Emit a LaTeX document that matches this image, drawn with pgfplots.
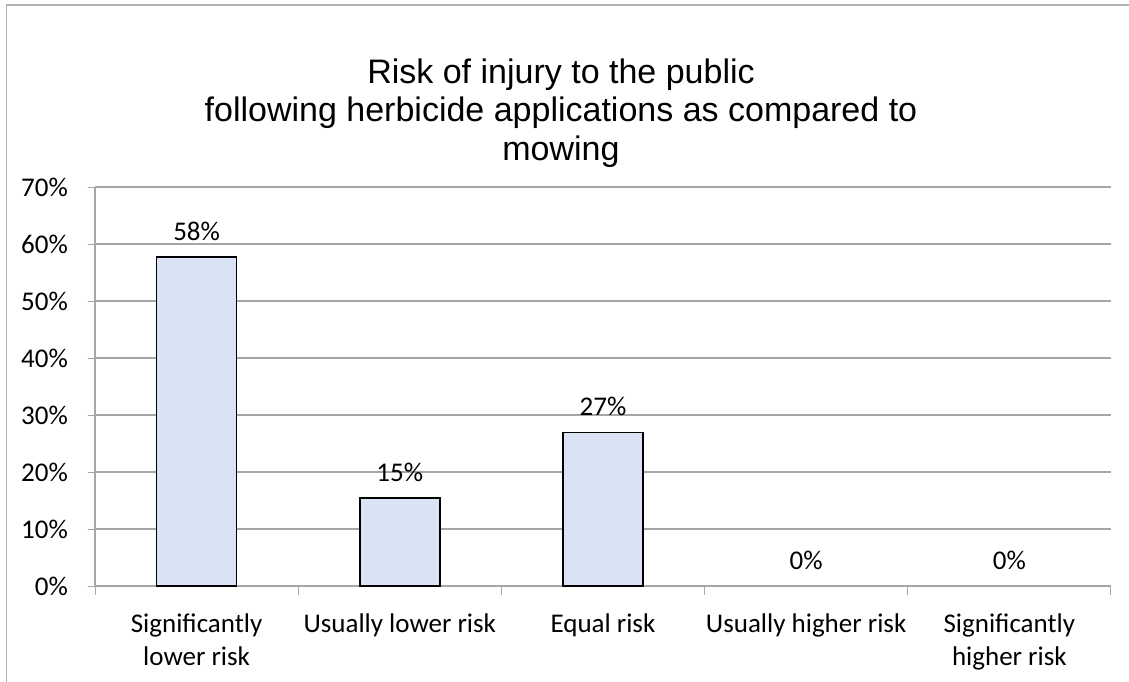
\documentclass[border=0pt]{standalone}
\usepackage{fontspec}
\setmainfont{Carlito}
\newfontfamily\titlefont{Liberation Sans}
\usepackage{pgfplots}
\pgfplotsset{compat=1.18}
\definecolor{barfill}{HTML}{DAE3F3}
\definecolor{gridc}{HTML}{A6A6A6}
\definecolor{framec}{HTML}{B3B3B3}
\begin{document}
\begin{tikzpicture}[x=1pt,y=1pt]
\useasboundingbox (0,0) rectangle (1129,681);
\draw[framec, line width=1.6pt] (6.5,-2) -- (6.5,676) -- (1135,676);
\node[font=\titlefont\fontsize{34}{38.5}\selectfont, align=center] at (561,568)
  {Risk of injury to the public\\following herbicide applications as compared to\\mowing};
\begin{axis}[
  at={(95pt,95pt)}, anchor=south west,
  width=1016pt, height=399pt, scale only axis,
  xmin=-0.5, xmax=4.5, ymin=0, ymax=70,
  xtick={0,1,2,3,4},
  xticklabels={{Significantly\\lower risk},{Usually lower risk},{Equal risk},{Usually higher risk},{Significantly\\higher risk}},
  minor xtick={-0.5,0.5,1.5,2.5,3.5,4.5},
  major x tick style={draw=none},
  ytick={0,10,...,70},
  yticklabel={\pgfmathprintnumber{\tick}\%},
  /pgf/number format/assume math mode=true,
  tick align=outside,
  major tick length=7pt, minor tick length=9pt,
  tick style={gridc, line width=1pt},
  axis lines*=left,
  axis line style={gridc, line width=1.3pt, -},
  ymajorgrids,
  grid style={gridc, line width=1.3pt},
  x tick label style={font=\fontsize{27}{33}\selectfont, align=center, anchor=north, inner sep=0pt, yshift=-21pt},
  y tick label style={font=\fontsize{27}{33}\selectfont, anchor=east, inner sep=0pt, xshift=-20pt},
  ybar, bar width=80pt, bar shift=0pt,
  nodes near coords={\pgfmathprintnumber[fixed,precision=0]{\pgfplotspointmeta}\%},
  every node near coord/.append style={font=\fontsize{27}{33}\selectfont, anchor=south, inner sep=0pt, yshift=16pt, black},
  clip=false,
]
\addplot[draw=black, line width=1.6pt, fill=barfill] coordinates {(0,57.7) (1,15.4) (2,26.9)};
\addplot[draw=none, fill=none] coordinates {(3,0) (4,0)};
\end{axis}
\end{tikzpicture}
\end{document}
